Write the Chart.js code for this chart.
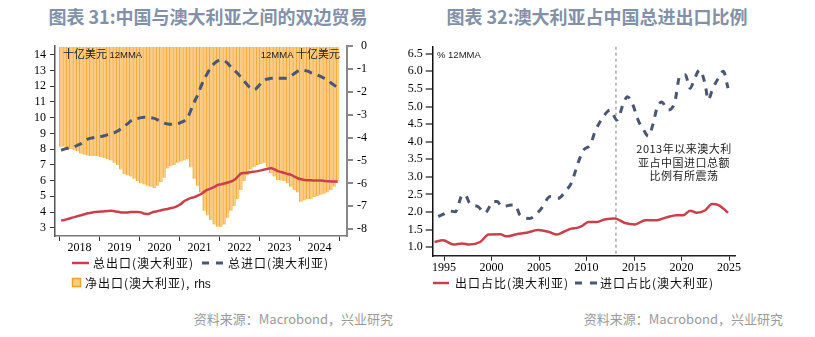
<!DOCTYPE html>
<html>
<head>
<meta charset="utf-8">
<script src="https://cdn.jsdelivr.net/npm/chart.js@4"></script>
<style>
  body { margin: 0; width: 815px; height: 337px; background: #fff; position: relative; overflow: hidden;
         font-family: "Noto Sans CJK SC", "Noto Sans", sans-serif; }
  canvas { position: absolute; }
  .abs { position: absolute; white-space: nowrap; }
  .title { top: 5px; font-size: 18px; line-height: 22px; font-weight: bold; color: #8291a8; transform: translateX(-50%); }
  .src { top: 311px; font-size: 13px; line-height: 16px; color: #9a9a9a; }
  .lg { font-size: 12px; line-height: 14px; letter-spacing: 1px; color: #111; }
  .unit { font-size: 11px; line-height: 13px; color: #222; }
  .unit b { font-family: "Liberation Sans", sans-serif; font-weight: normal; font-size: 9.5px; }
  .note { font-size: 11px; line-height: 13.5px; letter-spacing: 0.5px; color: #222; text-align: center; transform: translateX(-50%); }
</style>
</head>
<body>

<div class="abs title" style="left:208px">图表 31:中国与澳大利亚之间的双边贸易</div>
<div class="abs title" style="left:597px">图表 32:澳大利亚占中国总进出口比例</div>

<canvas id="c31" width="400" height="220" style="left:0;top:40px"></canvas>
<canvas id="c32" width="415" height="240" style="left:400px;top:40px"></canvas>

<div class="abs unit" style="left:63px;top:47px">十亿美元 <b>12MMA</b></div>
<div class="abs unit" style="right:475px;top:47px"><b>12MMA</b> 十亿美元</div>
<div class="abs unit" style="left:437px;top:47px"><b>% 12MMA</b></div>

<div class="abs note" style="left:684px;top:142px">2013年以来澳大利<br>亚占中国进口总额<br>比例有所震荡</div>

<!-- legends -->
<svg class="abs" style="left:70px;top:255px" width="160" height="40">
  <line x1="2" y1="8" x2="19" y2="8" stroke="#c8404c" stroke-width="2.5"/>
  <line x1="132" y1="8" x2="153" y2="8" stroke="#4a5672" stroke-width="3" stroke-dasharray="7,7"/>
  <rect x="2.5" y="23.5" width="8" height="8" fill="#fbcd84" stroke="#f4a028" stroke-width="1.5"/>
</svg>
<div class="abs lg" style="left:93px;top:256px">总出口(澳大利亚)</div>
<div class="abs lg" style="left:228px;top:256px">总进口(澳大利亚)</div>
<div class="abs lg" style="left:85px;top:276px">净出口(澳大利亚), <span style="font-family:'Liberation Sans',sans-serif;letter-spacing:0">rhs</span></div>

<svg class="abs" style="left:430px;top:275px" width="170" height="16">
  <line x1="3" y1="8" x2="19" y2="8" stroke="#c8404c" stroke-width="2.5"/>
  <line x1="145" y1="8" x2="167" y2="8" stroke="#4a5672" stroke-width="3" stroke-dasharray="7,8"/>
</svg>
<div class="abs lg" style="left:455px;top:276px">出口占比(澳大利亚)</div>
<div class="abs lg" style="left:600px;top:276px">进口占比(澳大利亚)</div>

<div class="abs src" style="right:422px">资料来源：Macrobond，兴业研究</div>
<div class="abs src" style="right:32px">资料来源：Macrobond，兴业研究</div>

<script>
// ---- chart 31: China - Australia trade, USD bn, 12MMA, monthly from Jan 2018 ----
const startYear = 2018;
const exportsAu = [
  3.46, 3.50, 3.55, 3.62, 3.68, 3.74, 3.80, 3.86, 3.92, 3.96, 4.00, 4.02,
  4.03, 4.05, 4.07, 4.08, 4.05, 4.02, 3.98, 3.97, 3.98, 4.00, 4.00, 4.00,
  3.98, 3.90, 3.87, 3.95, 4.02, 4.06, 4.12, 4.16, 4.20, 4.26, 4.30, 4.40,
  4.52, 4.70, 4.80, 4.90, 4.95, 5.05, 5.15, 5.30, 5.42, 5.50, 5.60, 5.72,
  5.76, 5.82, 5.88, 5.94, 6.05, 6.25, 6.45, 6.48, 6.50, 6.55, 6.57, 6.60,
  6.65, 6.70, 6.75, 6.79, 6.72, 6.60, 6.55, 6.48, 6.42, 6.36, 6.25, 6.15,
  6.08, 6.04, 6.02, 6.02, 6.00, 6.00, 6.00, 5.98, 5.96, 5.95, 5.94, 5.93
];
const importsAu = [
  7.93, 8.00, 8.05, 8.10, 8.15, 8.25, 8.35, 8.50, 8.63, 8.70, 8.74, 8.78,
  8.80, 8.85, 8.92, 9.00, 9.05, 9.15, 9.30, 9.45, 9.62, 9.80, 9.90, 9.95,
  10.00, 10.02, 10.02, 10.00, 9.95, 9.85, 9.75, 9.65, 9.60, 9.58, 9.60, 9.62,
  9.70, 9.80, 10.00, 10.50, 11.00, 11.45, 12.00, 12.45, 12.85, 13.20, 13.45, 13.60,
  13.66, 13.60, 13.45, 13.20, 13.00, 12.80, 12.55, 12.30, 12.05, 11.85, 11.78, 11.95,
  12.20, 12.40, 12.45, 12.50, 12.50, 12.50, 12.50, 12.50, 12.52, 12.65, 12.80, 12.95,
  13.03, 13.00, 12.95, 12.85, 12.78, 12.70, 12.60, 12.50, 12.40, 12.20, 12.05, 11.90
];
const netExportsAu = [
  -4.40, -4.40, -4.45, -4.50, -4.55, -4.60, -4.70, -4.75, -4.78, -4.80, -4.80, -4.82,
  -4.85, -4.90, -4.95, -5.00, -5.10, -5.20, -5.40, -5.60, -5.65, -5.70, -5.80, -5.90,
  -6.00, -6.05, -6.10, -6.15, -6.20, -6.10, -5.95, -5.75, -5.35, -5.25, -5.20, -5.10,
  -5.05, -5.00, -4.95, -5.30, -5.80, -6.10, -6.40, -7.20, -7.40, -7.60, -7.80, -7.90,
  -7.90, -7.80, -7.50, -7.20, -7.00, -6.70, -6.30, -5.90, -5.65, -5.40, -5.30, -5.20,
  -5.15, -5.10, -5.30, -5.55, -5.70, -5.85, -5.88, -5.90, -6.00, -6.15, -6.30, -6.40,
  -6.80, -6.75, -6.70, -6.70, -6.60, -6.55, -6.50, -6.45, -6.40, -6.30, -6.15, -5.90
];
const tradeYearTicks = [2018, 2019, 2020, 2021, 2022, 2023, 2024, 2025];
const tradeLeftTicks = [3, 4, 5, 6, 7, 8, 9, 10, 11, 12, 13, 14];
const tradeRightTicks = [0, -1, -2, -3, -4, -5, -6, -7, -8];

// ---- chart 32: Australia share of China's trade, %, 12MMA ----
const expYears = [1994.0, 1994.9, 1996.0, 1996.9, 1997.7, 1998.8, 1999.7, 2000.9, 2001.6, 2002.65,
  2003.7, 2004.9, 2006.0, 2006.9, 2007.6, 2008.4, 2009.0, 2009.5, 2010.2, 2011.1, 2011.9, 2013.0,
  2014.05, 2015.1, 2016.2, 2017.4, 2018.4, 2019.5, 2020.2, 2020.9, 2021.6, 2022.5, 2023.2, 2023.9, 2024.9];
const expShare = [1.15, 1.20, 1.08, 1.11, 1.08, 1.15, 1.36, 1.37, 1.31, 1.37,
  1.41, 1.49, 1.44, 1.36, 1.44, 1.53, 1.55, 1.60, 1.72, 1.72, 1.79, 1.82,
  1.69, 1.65, 1.77, 1.77, 1.85, 1.91, 1.91, 2.04, 1.98, 2.05, 2.23, 2.20, 1.98];
const impYears = [1994.4, 1995.0, 1995.5, 1996.2, 1996.9, 1997.2, 1997.7, 1998.6, 1999.3, 2000.2,
  2000.6, 2001.1, 2002.1, 2002.5, 2003.0, 2004.0, 2005.1, 2006.2, 2007.0, 2007.9,
  2008.4, 2009.1, 2009.7, 2010.4, 2010.9, 2011.8, 2012.5, 2013.2, 2013.9, 2014.3,
  2014.8, 2015.5, 2016.0, 2016.5, 2017.0, 2017.4, 2017.9, 2018.6, 2019.3, 2019.8,
  2020.4, 2020.9, 2021.4, 2021.9, 2022.5, 2022.8, 2023.3, 2023.9, 2024.4, 2024.9];
const impShare = [1.87, 1.95, 2.03, 2.01, 2.48, 2.50, 2.25, 2.15, 1.97, 2.30,
  2.30, 2.15, 2.20, 2.20, 1.91, 1.82, 2.05, 2.44, 2.39, 2.63,
  2.82, 3.39, 3.77, 3.91, 4.29, 4.72, 4.90, 4.62, 5.10, 5.28,
  5.10, 4.57, 4.34, 4.16, 4.50, 4.94, 5.13, 4.90, 5.13, 5.85,
  5.90, 5.52, 5.81, 6.04, 5.62, 5.19, 5.52, 5.81, 6.00, 5.52];
const shareYearTicks = [1995, 2000, 2005, 2010, 2015, 2020, 2025];
const shareValueTicks = [1.0, 1.5, 2.0, 2.5, 3.0, 3.5, 4.0, 4.5, 5.0, 5.5, 6.0, 6.5];
const markerYear = 2013.1;

const RED = '#c8404c';
const NAVY = '#4a5672';
const tickFont = { family: '"Liberation Serif", "Times New Roman", serif', size: 12 };

// pin axis box sizes so the plot area lands where the reference has it
function fixBox(size) {
  return (scale) => {
    if (scale.isHorizontal()) scale.height = size; else scale.width = size;
    scale.paddingTop = scale.paddingBottom = scale.paddingLeft = scale.paddingRight = 0;
  };
}
function setTicks(list) {
  return (scale) => { scale.ticks = list.map(v => ({ value: v })); };
}

const monthPos = exportsAu.map((_, i) => startYear + (i + 0.5) / 12);
const toPoints = (xs, ys) => ys.map((y, i) => ({ x: xs[i], y: y }));

new Chart(document.getElementById('c31'), {
    type: 'line',
    data: {
        datasets: [
            {
                label: '总出口(澳大利亚)',
                data: toPoints(monthPos, exportsAu),
                yAxisID: 'yL',
                borderColor: RED,
                borderWidth: 2.5,
                pointRadius: 0,
                cubicInterpolationMode: 'monotone',
                order: 0
            },
            {
                label: '总进口(澳大利亚)',
                data: toPoints(monthPos, importsAu),
                yAxisID: 'yL',
                borderColor: NAVY,
                borderWidth: 3,
                borderDash: [8, 6],
                pointRadius: 0,
                cubicInterpolationMode: 'monotone',
                order: 1
            },
            {
                type: 'bar',
                label: '净出口(澳大利亚), rhs',
                data: toPoints(monthPos, netExportsAu),
                yAxisID: 'yR',
                backgroundColor: '#fbcd84',
                borderColor: '#f4a028',
                borderWidth: { left: 1, right: 0, top: 0, bottom: 0 },
                borderSkipped: false,
                barPercentage: 1,
                categoryPercentage: 1,
                order: 2
            }
        ]
    },
    options: {
        responsive: false,
        animation: false,
        layout: { padding: { top: 6, right: 33, left: 0, bottom: 0 } },
        plugins: { legend: { display: false }, tooltip: { enabled: false } },
        scales: {
            x: {
                type: 'linear', min: 2017.89, max: 2025.19, offset: false,
                afterBuildTicks: setTicks(tradeYearTicks),
                afterFit: fixBox(24),
                ticks: { callback: v => (v < 2025 ? String(v) : ''), labelOffset: 20, padding: 0,
                         maxRotation: 0, autoSkip: false, font: tickFont, color: '#000' },
                grid: { drawOnChartArea: false, offset: false, tickLength: 5, color: '#333' },
                border: { color: '#777', width: 1.5 }
            },
            yL: {
                position: 'left', min: 2.48, max: 14.55,
                afterBuildTicks: setTicks(tradeLeftTicks),
                afterFit: fixBox(55),
                ticks: { padding: 4, autoSkip: false, font: tickFont, color: '#000' },
                grid: { drawOnChartArea: false, tickLength: 5, color: '#333' },
                border: { color: '#555', width: 1.5 }
            },
            yR: {
                position: 'right', min: -8.3, max: 0,
                afterBuildTicks: setTicks(tradeRightTicks),
                afterFit: fixBox(20),
                ticks: { padding: 4, autoSkip: false, crossAlign: 'far', font: tickFont, color: '#000' },
                grid: { drawOnChartArea: false, tickLength: 6, color: '#888', lineWidth: 2 },
                border: { color: '#888', width: 2 }
            }
        }
    }
});

// grey dashed marker at 2013
const markerLine = {
    id: 'markerLine',
    beforeDatasetsDraw(chart) {
        const { ctx, chartArea, scales } = chart;
        const px = scales.x.getPixelForValue(markerYear);
        ctx.save();
        ctx.strokeStyle = '#a8a8a8';
        ctx.lineWidth = 1.5;
        ctx.setLineDash([3, 3]);
        ctx.beginPath();
        ctx.moveTo(px, chartArea.top);
        ctx.lineTo(px, chartArea.bottom);
        ctx.stroke();
        ctx.restore();
    }
};

new Chart(document.getElementById('c32'), {
    type: 'line',
    data: {
        datasets: [
            {
                label: '出口占比(澳大利亚)',
                data: toPoints(expYears, expShare),
                borderColor: RED,
                borderWidth: 2.5,
                pointRadius: 0,
                cubicInterpolationMode: 'monotone'
            },
            {
                label: '进口占比(澳大利亚)',
                data: toPoints(impYears, impShare),
                borderColor: NAVY,
                borderWidth: 3,
                borderDash: [7, 7],
                pointRadius: 0,
                cubicInterpolationMode: 'monotone'
            }
        ]
    },
    options: {
        responsive: false,
        animation: false,
        layout: { padding: { top: 6.7, right: 80, left: 0, bottom: 0 } },
        plugins: { legend: { display: false }, tooltip: { enabled: false } },
        scales: {
            x: {
                type: 'linear', min: 1993.81, max: 2025.63, offset: false,
                afterBuildTicks: setTicks(shareYearTicks),
                afterFit: fixBox(24.3),
                ticks: { callback: v => String(v), padding: 0, maxRotation: 0, autoSkip: false,
                         font: tickFont, color: '#000' },
                grid: { drawOnChartArea: false, tickLength: 5, color: '#222' },
                border: { color: '#222', width: 1.5 }
            },
            y: {
                min: 0.76, max: 6.7,
                afterBuildTicks: setTicks(shareValueTicks),
                afterFit: fixBox(32.7),
                ticks: { callback: v => v.toFixed(1), padding: 3, autoSkip: false, font: tickFont, color: '#000' },
                grid: { drawOnChartArea: false, tickLength: 7, color: '#777', lineWidth: 2 },
                border: { color: '#111', width: 1.5 }
            }
        }
    },
    plugins: [markerLine]
});
</script>
</body>
</html>
